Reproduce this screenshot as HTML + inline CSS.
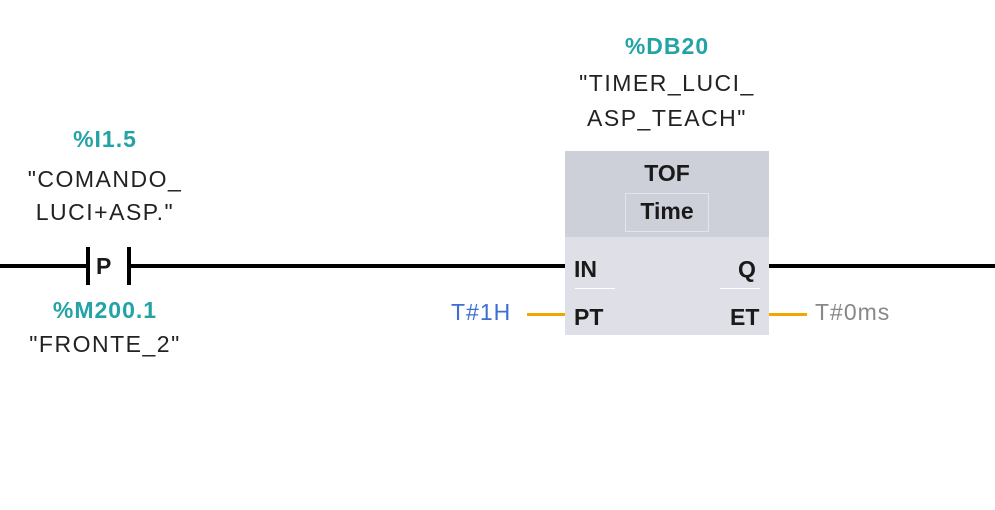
<!DOCTYPE html>
<html><head><style>
body{margin:0;width:995px;height:510px;background:#fff;position:relative;overflow:hidden;font-family:"Liberation Sans",sans-serif;}
.t{position:absolute;font-size:23px;letter-spacing:1.5px;color:#222;white-space:nowrap;text-align:center;}
.c{color:#23a3a6;font-weight:bold;letter-spacing:1px;}
.b{font-weight:bold;letter-spacing:0;color:#1a1a1a;}
.a{position:absolute;background:#000;}
</style></head><body>
<div class="t c" style="left:0;width:210px;top:126px">%I1.5</div>
<div class="t" style="left:0;width:210px;top:166px">"COMANDO_</div>
<div class="t" style="left:0;width:210px;top:199px">LUCI+ASP."</div>
<div class="t c" style="left:0;width:210px;top:297px">%M200.1</div>
<div class="t" style="left:0;width:210px;top:331px">"FRONTE_2"</div>
<div class="a" style="left:0;top:264px;width:88px;height:4px"></div>
<div class="a" style="left:86px;top:247px;width:4px;height:38px"></div>
<div class="a" style="left:127px;top:247px;width:4px;height:38px"></div>
<div class="t b" style="left:96px;top:253px">P</div>
<div class="a" style="left:129px;top:264px;width:437px;height:4px"></div>
<div class="a" style="left:769px;top:264px;width:226px;height:4px"></div>
<div class="t c" style="left:565px;width:204px;top:33px">%DB20</div>
<div class="t" style="left:565px;width:204px;top:70px">"TIMER_LUCI_</div>
<div class="t" style="left:565px;width:204px;top:105px">ASP_TEACH"</div>
<div style="position:absolute;left:565px;top:151px;width:204px;height:184px;background:#dfe0e7"></div>
<div style="position:absolute;left:565px;top:151px;width:204px;height:86px;background:#cdcfd9"></div>
<div style="position:absolute;left:625px;top:193px;width:82px;height:37px;border:1px solid #e4e5ec"></div>
<div class="t b" style="left:565px;width:204px;top:160px">TOF</div>
<div class="t b" style="left:565px;width:204px;top:198px">Time</div>
<div class="t b" style="left:574px;top:256px">IN</div>
<div class="t b" style="left:738px;top:256px">Q</div>
<div class="t b" style="left:574px;top:304px">PT</div>
<div class="t b" style="left:730px;top:304px">ET</div>
<div style="position:absolute;left:575px;top:288px;width:40px;height:1px;background:#fff"></div>
<div style="position:absolute;left:720px;top:288px;width:40px;height:1px;background:#fff"></div>
<div style="position:absolute;left:527px;top:313px;width:38px;height:3px;background:#f5a500"></div>
<div style="position:absolute;left:769px;top:313px;width:38px;height:3px;background:#f5a500"></div>
<div class="t" style="left:451px;top:299px;color:#3b6fd0;letter-spacing:1px">T#1H</div>
<div class="t" style="left:815px;top:299px;color:#888;letter-spacing:1px">T#0ms</div>
</body></html>
